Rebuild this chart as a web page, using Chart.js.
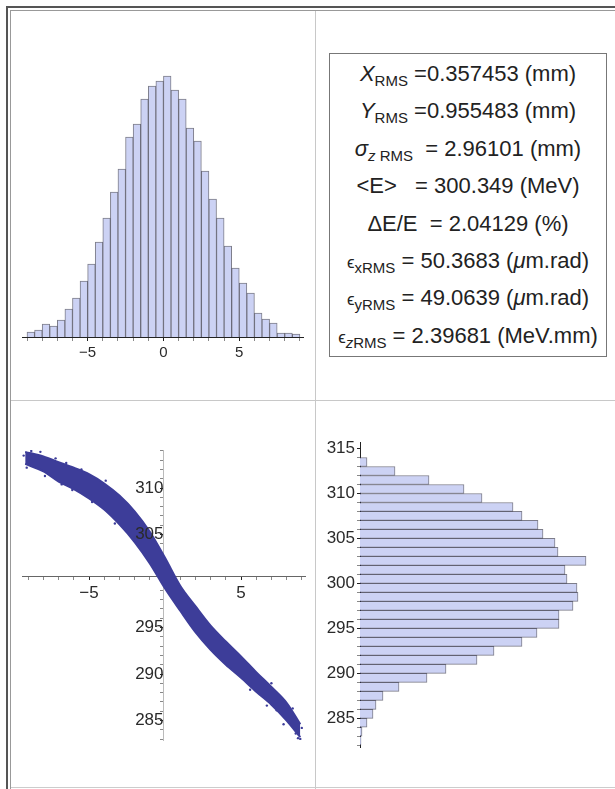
<!DOCTYPE html>
<html lang="en">
<head>
<meta charset="UTF-8">
<title>Beam distribution</title>
<script src="https://cdn.jsdelivr.net/npm/chart.js"></script>
<style>
  body { margin: 0; background: #fff; width: 615px; height: 789px; overflow: hidden; position: relative;
         font-family: "Liberation Sans", Arial, sans-serif; }
  .ln { position: absolute; }
  canvas { position: absolute; }
  #stats { position: absolute; left: 329px; top: 53px; width: 276px; height: 301px;
           border: 1px solid #777; text-align: center; font-size: 22px; line-height: 37.4px;
           color: #222; padding-top: 1px; box-sizing: content-box; }
  #stats div { white-space: nowrap; height: 37.4px; }
  .s { font-size: 15px; line-height: 0; position: relative; top: 5px; }
  .ep { font-size: 17px; line-height: 0; }
  i { font-style: italic; }
</style>
</head>
<body>
  <div class="ln" style="left:6px;top:6px;width:609px;height:2px;background:#555"></div>
  <div class="ln" style="left:10px;top:10px;width:605px;height:1px;background:#999"></div>
  <div class="ln" style="left:6px;top:6px;width:2px;height:783px;background:#555"></div>
  <div class="ln" style="left:10px;top:10px;width:1px;height:779px;background:#999"></div>
  <div class="ln" style="left:315px;top:11px;width:1px;height:778px;background:#c8c8c8"></div>
  <div class="ln" style="left:11px;top:400px;width:604px;height:1px;background:#c8c8c8"></div>
  <div class="ln" style="left:11px;top:787px;width:604px;height:1px;background:#ccc"></div>

  <canvas id="histX" width="282" height="330" style="left:22px;top:50px"></canvas>
  <canvas id="phase" width="305" height="330" style="left:10px;top:430px"></canvas>
  <canvas id="histE" width="285" height="330" style="left:320px;top:430px"></canvas>

  <div id="stats">
    <div><i>X</i><span class="s">RMS</span> =0.357453 (mm)</div>
    <div><i>Y</i><span class="s">RMS</span> =0.955483 (mm)</div>
    <div><i>σ</i><span class="s"><i>z</i> RMS</span> &nbsp;= 2.96101 (mm)</div>
    <div>&lt;E&gt; &nbsp; = 300.349 (MeV)</div>
    <div>ΔE/E &nbsp;= 2.04129 (%)</div>
    <div><span class="ep">ϵ</span><span class="s">xRMS</span> = 50.3683 (<i>μ</i>m.rad)</div>
    <div><span class="ep">ϵ</span><span class="s">yRMS</span> = 49.0639 (<i>μ</i>m.rad)</div>
    <div><span class="ep">ϵ</span><span class="s"><i>z</i>RMS</span> = 2.39681 (MeV.mm)</div>
  </div>

<script>
// x distribution histogram (bin width 0.5 mm)
const xCenters = [-8.75, -8.25, -7.75, -7.25, -6.75, -6.25, -5.75, -5.25, -4.75, -4.25, -3.75, -3.25,
  -2.75, -2.25, -1.75, -1.25, -0.75, -0.25, 0.25, 0.75, 1.25, 1.75, 2.25, 2.75,
  3.25, 3.75, 4.25, 4.75, 5.25, 5.75, 6.25, 6.75, 7.25, 7.75, 8.25, 8.75];
const xCounts = [5, 7, 13, 11, 17, 28, 39, 56, 73, 95, 119, 145,
  168, 200, 213, 238, 251, 256, 261, 247, 238, 209, 196, 166,
  138, 119, 91, 69, 54, 44, 24, 18, 14, 4, 4, 3];

// energy histogram (bin width 1 MeV)
const eCenters = [282.5, 283.5, 284.5, 285.5, 286.5, 287.5, 288.5, 289.5, 290.5, 291.5, 292.5,
  293.5, 294.5, 295.5, 296.5, 297.5, 298.5, 299.5, 300.5, 301.5, 302.5, 303.5,
  304.5, 305.5, 306.5, 307.5, 308.5, 309.5, 310.5, 311.5, 312.5, 313.5];
const eCounts = [1, 2, 7, 13, 16, 23, 39, 67, 86, 117, 134,
  162, 177, 199, 199, 213, 218, 217, 207, 205, 226, 198,
  195, 183, 178, 162, 153, 122, 104, 69, 35, 7];

// z-E phase space: outline of the dense band, plus loose particles at the ends
const bandX      = [-9.2, -8, -7, -6, -5, -4, -3, -2, -1, 0, 1, 2, 3, 4, 5, 6, 7, 8, 8.9];
const bandTop    = [313.9, 313.4, 312.8, 312.2, 311.5, 310.5, 309.2, 307.5, 305.3, 302.5,
                    299.5, 297.3, 295.2, 293.5, 291.9, 290.2, 288.6, 286.9, 284.6];
const bandBottom = [312.6, 311.8, 310.7, 309.9, 308.9, 307.7, 306.1, 304.2, 301.9, 299.2,
                    296.8, 294.5, 292.6, 291.0, 289.6, 288.1, 286.7, 285.0, 283.2];
const looseZ = [-9.3, -9.1, -8.8, -8.5, -8.2, -7.9, -7.6, -7.2, -6.8, -6.5, -6.1, -5.5, -4.8, -3.9, -3.3,
  5.6, 6.2, 6.7, 7.0, 7.35, 7.6, 7.8, 8.2, 8.4, 8.6, 8.9, 9.0, 8.75];
const looseE = [313.5, 312.2, 314.0, 312.4, 313.9, 311.3, 311.9, 313.2, 310.4, 312.7, 309.8, 312.0, 308.5, 310.8, 306.2,
  288.3, 288.8, 286.6, 289.0, 286.1, 287.4, 284.6, 285.3, 286.3, 283.6, 283.0, 284.2, 283.1];

const FONT = '"Liberation Sans", Arial, sans-serif';
Chart.defaults.font.family = FONT;
Chart.defaults.color = '#2a2a2a';

const barFill = 'rgb(204,210,244)';
const barEdge = 'rgba(55,55,75,0.65)';
const dotBlue = 'rgb(61,61,153)';

const minus = v => (v < 0 ? '\u2212' + Math.abs(v) : String(v));
const isFive = v => Math.abs(v / 5 - Math.round(v / 5)) < 1e-6;
const tickShade = c => (c.tick && isFive(c.tick.value) ? '#222' : '#888');

const base = {
  responsive: false,
  animation: false,
  events: [],
  plugins: { legend: { display: false }, tooltip: { enabled: false } }
};

new Chart(document.getElementById('histX'), {
  type: 'bar',
  data: {
    datasets: [{
      data: xCenters.map((x, i) => ({ x: x, y: xCounts[i] })),
      backgroundColor: barFill,
      borderColor: barEdge,
      borderWidth: 1,
      barPercentage: 1,
      categoryPercentage: 1
    }]
  },
  options: {
    ...base,
    scales: {
      x: {
        type: 'linear', min: -9.33, max: 9.27, offset: false,
        afterFit: s => { s.height = 43; },
        border: { display: true, color: '#222', width: 1 },
        grid: { offset: false, drawOnChartArea: false, tickLength: 4, tickColor: tickShade },
        ticks: {
          stepSize: 1, autoSkip: false, includeBounds: false, maxRotation: 0, padding: 3,
          font: { size: 15 },
          callback: v => (isFive(v) ? minus(Math.round(v)) : '')
        }
      },
      y: { display: false, min: 0, max: 287 }
    }
  }
});

new Chart(document.getElementById('phase'), {
  type: 'scatter',
  data: {
    datasets: [
      {
        data: bandX.map((x, i) => ({ x: x, y: bandTop[i] })),
        showLine: true, pointRadius: 0, borderColor: dotBlue, borderWidth: 2,
        cubicInterpolationMode: 'monotone', fill: false
      },
      {
        data: bandX.map((x, i) => ({ x: x, y: bandBottom[i] })),
        showLine: true, pointRadius: 0, borderColor: dotBlue, borderWidth: 2,
        cubicInterpolationMode: 'monotone', fill: '-1', backgroundColor: dotBlue
      },
      {
        data: looseZ.map((x, i) => ({ x: x, y: looseE[i] })),
        pointRadius: 1.2, pointBorderWidth: 0, backgroundColor: dotBlue
      }
    ]
  },
  options: {
    ...base,
    layout: { padding: { left: 12, right: 10, top: 20, bottom: 20 } },
    scales: {
      x: {
        type: 'linear', min: -9.41, max: 9.21, position: { y: 300.5 },
        border: { display: true, color: '#666', width: 1 },
        grid: { drawOnChartArea: false, tickLength: 3, tickColor: tickShade },
        ticks: {
          stepSize: 1, autoSkip: false, includeBounds: false, maxRotation: 0, padding: 4, z: 1,
          font: { size: 17 },
          callback: v => (isFive(v) && Math.round(v) !== 0 ? minus(Math.round(v)) : '')
        }
      },
      y: {
        type: 'linear', min: 282.9, max: 314.1, position: { x: -0.1 },
        border: { display: true, color: '#bbb', width: 1 },
        grid: { drawOnChartArea: false, tickLength: 3, tickColor: tickShade },
        ticks: {
          stepSize: 1, autoSkip: false, includeBounds: false, padding: 2, z: 1,
          font: { size: 17 },
          callback: v => (isFive(v) && Math.round(v) !== 300 ? String(Math.round(v)) : '')
        }
      }
    }
  }
});

new Chart(document.getElementById('histE'), {
  type: 'bar',
  data: {
    datasets: [{
      data: eCenters.map((e, i) => ({ x: eCounts[i], y: e })),
      backgroundColor: barFill,
      borderColor: barEdge,
      borderWidth: 1,
      barPercentage: 1,
      categoryPercentage: 1
    }]
  },
  options: {
    ...base,
    indexAxis: 'y',
    layout: { padding: { top: 10.6, bottom: 7.8, right: 5 } },
    scales: {
      x: { display: false, min: 0, max: 240 },
      y: {
        type: 'linear', min: 281.72, max: 315.7, offset: false,
        afterFit: s => { s.width = 40; },
        border: { display: true, color: '#222', width: 1 },
        grid: { offset: false, drawOnChartArea: false, tickLength: 3, tickColor: tickShade },
        ticks: {
          stepSize: 1, autoSkip: false, includeBounds: false, padding: 2,
          font: { size: 17 },
          callback: v => (isFive(v) ? String(Math.round(v)) : '')
        }
      }
    }
  }
});
</script>
</body>
</html>
